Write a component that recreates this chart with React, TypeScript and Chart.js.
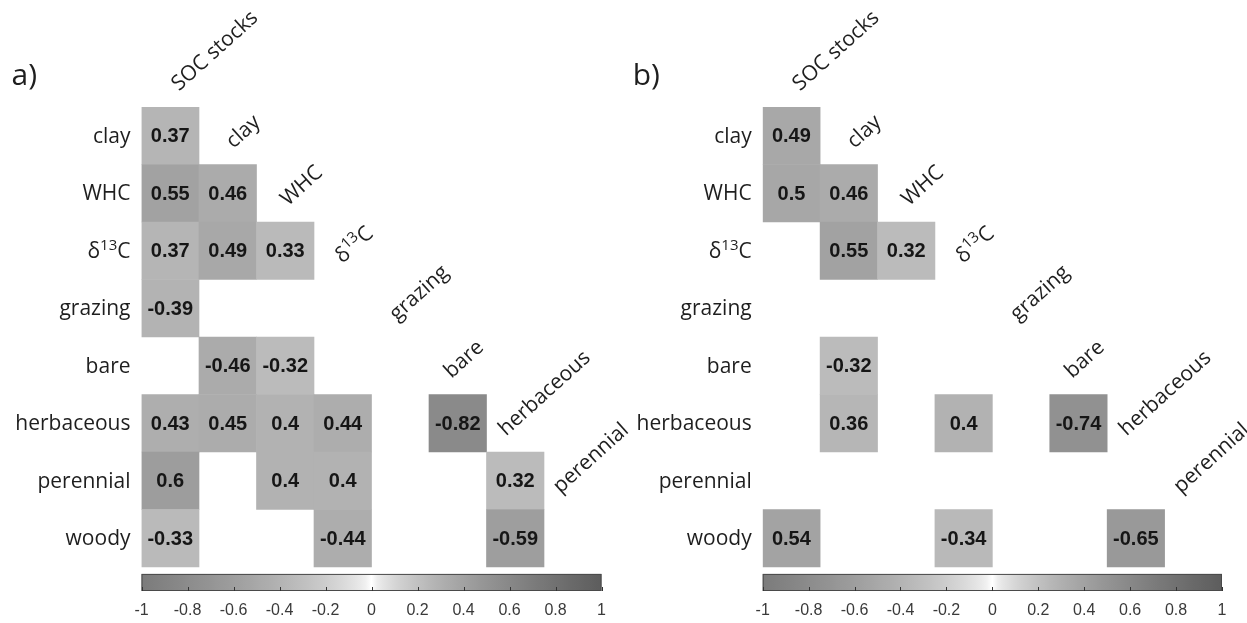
import React, { useEffect, useRef } from 'react';
import { Chart, registerables } from 'chart.js';

Chart.register(...registerables);

// ---------- data ----------
const columns = ['SOC stocks', 'clay', 'WHC', 'δ13C', 'grazing', 'bare', 'herbaceous', 'perennial'];
const rows = ['clay', 'WHC', 'δ13C', 'grazing', 'bare', 'herbaceous', 'perennial', 'woody'];

// [row, column, correlation]
const panelACells: [string, string, number][] = [
  ['clay', 'SOC stocks', 0.37],
  ['WHC', 'SOC stocks', 0.55], ['WHC', 'clay', 0.46],
  ['δ13C', 'SOC stocks', 0.37], ['δ13C', 'clay', 0.49], ['δ13C', 'WHC', 0.33],
  ['grazing', 'SOC stocks', -0.39],
  ['bare', 'clay', -0.46], ['bare', 'WHC', -0.32],
  ['herbaceous', 'SOC stocks', 0.43], ['herbaceous', 'clay', 0.45], ['herbaceous', 'WHC', 0.4], ['herbaceous', 'δ13C', 0.44], ['herbaceous', 'bare', -0.82],
  ['perennial', 'SOC stocks', 0.6], ['perennial', 'WHC', 0.4], ['perennial', 'δ13C', 0.4], ['perennial', 'herbaceous', 0.32],
  ['woody', 'SOC stocks', -0.33], ['woody', 'δ13C', -0.44], ['woody', 'herbaceous', -0.59],
];

const panelBCells: [string, string, number][] = [
  ['clay', 'SOC stocks', 0.49],
  ['WHC', 'SOC stocks', 0.5], ['WHC', 'clay', 0.46],
  ['δ13C', 'clay', 0.55], ['δ13C', 'WHC', 0.32],
  ['bare', 'clay', -0.32],
  ['herbaceous', 'clay', 0.36], ['herbaceous', 'δ13C', 0.4], ['herbaceous', 'bare', -0.74],
  ['woody', 'SOC stocks', 0.54], ['woody', 'δ13C', -0.34], ['woody', 'herbaceous', -0.65],
];

const colorbarTicks = [-1, -0.8, -0.6, -0.4, -0.2, 0, 0.2, 0.4, 0.6, 0.8, 1];
const panelLabels = ['a)', 'b)'];

// ---------- styling helpers ----------
const LABEL_FONT = '"Open Sans", "DejaVu Sans", sans-serif';
const VALUE_FONT = '"Liberation Sans", Arial, sans-serif';
const LABEL_SIZE = 21;
const LABEL_ANGLE = 42;

function grayLevel(r: number): number {
  return Math.round(255 - 131 * Math.pow(Math.abs(r), 0.575));
}
function cellColor(r: number): string {
  const g = grayLevel(r);
  return `rgb(${g},${g},${g})`;
}
function barColor(r: number): string {
  const a = Math.abs(r);
  const g = r < 0 ? Math.round(255 - 132 * Math.pow(a, 0.6)) : Math.round(255 - 162 * Math.pow(a, 0.6));
  return `rgb(${g},${g},${g})`;
}

type Part = { t: string; sup?: boolean };
function toParts(label: string): Part[] {
  const m = label.match(/^(δ)(\d+)(.*)$/);
  if (m) return [{ t: m[1] }, { t: m[2], sup: true }, { t: m[3] }];
  return [{ t: label }];
}

function drawRich(ctx: CanvasRenderingContext2D, label: string, x: number, y: number, align: 'left' | 'right', size: number) {
  const parts = toParts(label);
  const supSize = Math.round(size * 0.72);
  const widths = parts.map((p) => {
    ctx.font = `${p.sup ? supSize : size}px ${LABEL_FONT}`;
    return ctx.measureText(p.t).width;
  });
  const total = widths.reduce((s, w) => s + w, 0);
  let cx = align === 'right' ? x - total : x;
  ctx.textAlign = 'left';
  ctx.textBaseline = 'alphabetic';
  parts.forEach((p, i) => {
    ctx.font = `${p.sup ? supSize : size}px ${LABEL_FONT}`;
    ctx.fillText(p.t, cx, p.sup ? y - size * 0.38 : y);
    cx += widths[i];
  });
}

const CB_TOP = 7.62; // colorbar top in row units

const matrixPlugin = {
  id: 'matrixDecor',
  beforeDatasetsDraw(chart: any) {
    const ctx: CanvasRenderingContext2D = chart.ctx;
    const xc = chart.scales.xc;
    const y = chart.scales.y;
    const left = xc.getPixelForValue(-1);
    const right = xc.getPixelForValue(1);
    const top = y.getPixelForValue(CB_TOP);
    const bottom = y.getPixelForValue(y.max);
    const grad = ctx.createLinearGradient(left, 0, right, 0);
    for (let k = 0; k <= 80; k++) {
      const v = -1 + (2 * k) / 80;
      grad.addColorStop(k / 80, barColor(v));
    }
    ctx.save();
    ctx.fillStyle = grad;
    ctx.fillRect(left, top, right - left, bottom - top);
    ctx.strokeStyle = '#4a4a4a';
    ctx.lineWidth = 1;
    ctx.strokeRect(left + 0.5, top + 0.5, right - left - 1, bottom - top - 1);
    ctx.strokeStyle = '#333';
    colorbarTicks.forEach((v) => {
      const px = Math.round(xc.getPixelForValue(v)) + 0.5;
      ctx.beginPath();
      ctx.moveTo(px, bottom);
      ctx.lineTo(px, bottom - 4);
      ctx.stroke();
    });
    ctx.restore();
  },
  afterDatasetsDraw(chart: any) {
    const ctx: CanvasRenderingContext2D = chart.ctx;
    const meta = chart.getDatasetMeta(0);
    const data = chart.data.datasets[0].data;
    ctx.save();
    ctx.font = `bold 20px ${VALUE_FONT}`;
    ctx.fillStyle = '#161616';
    ctx.textAlign = 'center';
    ctx.textBaseline = 'middle';
    meta.data.forEach((el: any, i: number) => {
      const p = el.getProps(['x', 'y', 'base'], true);
      ctx.fillText(String(data[i].v), p.x, (p.y + p.base) / 2 + 1);
    });
    ctx.restore();
  },
  afterDraw(chart: any) {
    const ctx: CanvasRenderingContext2D = chart.ctx;
    const xs = chart.scales.x;
    const y = chart.scales.y;
    const area = chart.chartArea;
    ctx.save();
    ctx.fillStyle = '#1e1e1e';
    // row labels
    rows.forEach((r, i) => {
      drawRich(ctx, r, area.left - 11, y.getPixelForValue(i) + 7, 'right', LABEL_SIZE);
    });
    // diagonal column labels (anchored at their left-middle point)
    columns.forEach((c, j) => {
      const px = xs.getPixelForValue(j) + 4 - 3 * j;
      const py = y.getPixelForValue(j - 1) + 8;
      ctx.save();
      ctx.translate(px, py);
      ctx.rotate((-LABEL_ANGLE * Math.PI) / 180);
      drawRich(ctx, c, 0, 7, 'left', LABEL_SIZE);
      ctx.restore();
    });
    // panel label
    ctx.font = `30px ${LABEL_FONT}`;
    ctx.textAlign = 'left';
    ctx.textBaseline = 'alphabetic';
    ctx.fillText(chart.options.plugins.panelLabel.text, area.left - 130, 85);
    ctx.restore();
  },
};

function Panel({ cells, label, width, left, padLeft, padRight }: { cells: [string, string, number][]; label: string; width: number; left: number; padLeft: number; padRight: number }) {
  const ref = useRef<HTMLCanvasElement>(null);
  useEffect(() => {
    if (!ref.current) return;
    const chart = new Chart(ref.current, {
      type: 'bar',
      data: {
        labels: columns,
        datasets: [
          {
            data: cells.map(([r, c, v]) => {
              const i = rows.indexOf(r);
              return { x: c, y: [i - 0.5, i + 0.5], v } as any;
            }),
            backgroundColor: (ctx: any) => cellColor(ctx.raw ? ctx.raw.v : 0),
            borderWidth: 0,
            barPercentage: 1,
            categoryPercentage: 1,
            xAxisID: 'x',
            yAxisID: 'y',
          } as any,
        ],
      },
      options: {
        responsive: false,
        animation: false,
        devicePixelRatio: 1,
        layout: { padding: { left: padLeft, right: padRight, top: 107, bottom: 3 } },
        plugins: {
          legend: { display: false },
          tooltip: { enabled: false },
          panelLabel: { text: label },
        } as any,
        scales: {
          x: { type: 'category', labels: columns, display: false, offset: true },
          xc: {
            type: 'linear',
            position: 'bottom',
            min: -1,
            max: 1,
            offset: false,
            afterBuildTicks: (axis: any) => {
              axis.ticks = colorbarTicks.map((value) => ({ value }));
            },
            afterFit: (axis: any) => {
              axis.height = 29;
            },
            grid: { display: false, drawTicks: false, tickLength: 0 },
            border: { display: false },
            ticks: {
              font: { family: VALUE_FONT, size: 16 },
              color: '#3a3a3a',
              padding: 10,
              autoSkip: false,
              maxRotation: 0,
              callback: (v: any) => String(Math.round(Number(v) * 10) / 10),
            },
          },
          y: { type: 'linear', reverse: true, min: -0.5, max: 7.917, display: false },
        } as any,
      },
      plugins: [matrixPlugin],
    });
    return () => chart.destroy();
  }, []);
  return <canvas ref={ref} width={width} height={623} style={{ position: 'absolute', left, top: 0 }} />;
}

export default function App() {
  return (
    <div style={{ position: 'absolute', left: 0, top: 0, width: 1247, height: 623, background: '#fff', overflow: 'hidden' }}>
      <Panel cells={panelACells} label={panelLabels[0]} width={650} left={0} padLeft={141.5} padRight={48.5} />
      <Panel cells={panelBCells} label={panelLabels[1]} width={626} left={621} padLeft={141.7} padRight={25} />
    </div>
  );
}
